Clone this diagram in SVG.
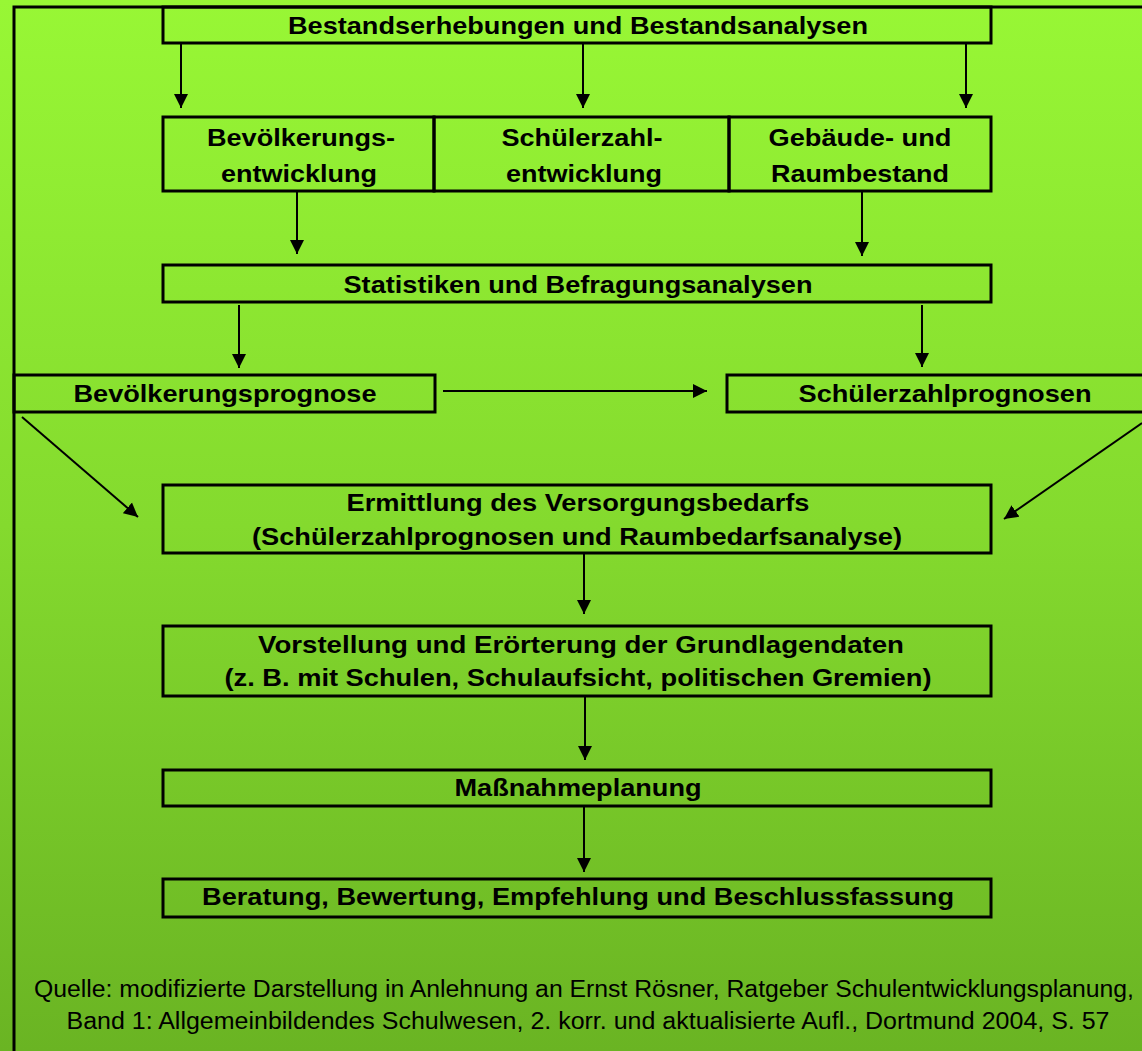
<svg xmlns="http://www.w3.org/2000/svg" width="1142" height="1051" viewBox="0 0 1142 1051">
<defs>
<linearGradient id="bg" x1="0" y1="0" x2="0" y2="1">
<stop offset="0" stop-color="#98F735"/>
<stop offset="0.5" stop-color="#84DA2E"/>
<stop offset="1" stop-color="#6AB423"/>
</linearGradient>
<marker id="ah" viewBox="0 0 10 10" refX="10" refY="5" markerWidth="14" markerHeight="15" markerUnits="userSpaceOnUse" orient="auto">
<path d="M0,0 L10,5 L0,10 z" fill="#000"/>
</marker>
<style>
.box{fill:none;stroke:#000;stroke-width:3}
.t{font-family:"Liberation Sans",Arial,sans-serif;font-weight:bold;font-size:24px;fill:#000;text-anchor:middle}
.q{font-family:"Liberation Sans",Arial,sans-serif;font-size:23px;fill:#000;text-anchor:middle}
.c{stroke:#000;stroke-width:2;fill:none;marker-end:url(#ah)}
</style>
</defs>
<rect x="0" y="0" width="1142" height="1051" fill="url(#bg)"/>
<rect id="frame" x="14" y="7" width="1140" height="1060" class="box"/>

<g id="n1"><rect x="163" y="7" width="828" height="36" class="box"/>
<text x="578" y="34" class="t" textLength="580" lengthAdjust="spacingAndGlyphs">Bestandserhebungen und Bestandsanalysen</text></g>

<g id="n2"><rect x="163" y="117" width="271" height="74" class="box"/>
<text x="301" y="146" class="t" textLength="188" lengthAdjust="spacingAndGlyphs">Bevölkerungs-</text>
<text x="299" y="182" class="t" textLength="156" lengthAdjust="spacingAndGlyphs">entwicklung</text></g>

<g id="n3"><rect x="434" y="117" width="295" height="74" class="box"/>
<text x="582" y="146" class="t" textLength="161" lengthAdjust="spacingAndGlyphs">Schülerzahl-</text>
<text x="584" y="182" class="t" textLength="156" lengthAdjust="spacingAndGlyphs">entwicklung</text></g>

<g id="n4"><rect x="729" y="117" width="262" height="74" class="box"/>
<text x="860" y="146" class="t" textLength="183" lengthAdjust="spacingAndGlyphs">Gebäude- und</text>
<text x="860" y="182" class="t" textLength="178" lengthAdjust="spacingAndGlyphs">Raumbestand</text></g>

<g id="n5"><rect x="163" y="265" width="828" height="37" class="box"/>
<text x="578" y="293" class="t" textLength="469" lengthAdjust="spacingAndGlyphs">Statistiken und Befragungsanalysen</text></g>

<g id="n6"><rect x="14" y="375" width="421" height="37" class="box"/>
<text x="225" y="402" class="t" textLength="303" lengthAdjust="spacingAndGlyphs">Bevölkerungsprognose</text></g>

<g id="n7"><rect x="727" y="375" width="430" height="37" class="box"/>
<text x="945" y="402" class="t" textLength="293" lengthAdjust="spacingAndGlyphs">Schülerzahlprognosen</text></g>

<g id="n8"><rect x="163" y="485" width="828" height="68" class="box"/>
<text x="578" y="511" class="t" textLength="463" lengthAdjust="spacingAndGlyphs">Ermittlung des Versorgungsbedarfs</text>
<text x="577" y="545" class="t" textLength="650" lengthAdjust="spacingAndGlyphs">(Schülerzahlprognosen und Raumbedarfsanalyse)</text></g>

<g id="n9"><rect x="163" y="626" width="828" height="70" class="box"/>
<text x="581" y="653" class="t" textLength="646" lengthAdjust="spacingAndGlyphs">Vorstellung und Erörterung der Grundlagendaten</text>
<text x="578" y="686" class="t" textLength="707" lengthAdjust="spacingAndGlyphs">(z. B. mit Schulen, Schulaufsicht, politischen Gremien)</text></g>

<g id="n10"><rect x="163" y="770" width="828" height="36" class="box"/>
<text x="578" y="796" class="t" textLength="247" lengthAdjust="spacingAndGlyphs">Maßnahmeplanung</text></g>

<g id="n11"><rect x="163" y="879" width="828" height="38" class="box"/>
<text x="578" y="905" class="t" textLength="752" lengthAdjust="spacingAndGlyphs">Beratung, Bewertung, Empfehlung und Beschlussfassung</text></g>

<g id="src">
<text x="584" y="997" class="q" textLength="1100" lengthAdjust="spacingAndGlyphs">Quelle: modifizierte Darstellung in Anlehnung an Ernst Rösner, Ratgeber Schulentwicklungsplanung,</text>
<text x="588" y="1029" class="q" textLength="1043" lengthAdjust="spacingAndGlyphs">Band 1: Allgemeinbildendes Schulwesen, 2. korr. und aktualisierte Aufl., Dortmund 2004, S. 57</text>
</g>

<g id="connectors">
<line x1="181" y1="44" x2="181" y2="108" class="c"/>
<line x1="583" y1="44" x2="583" y2="108" class="c"/>
<line x1="966" y1="44" x2="966" y2="108" class="c"/>
<line x1="297" y1="192" x2="297" y2="254" class="c"/>
<line x1="862" y1="192" x2="862" y2="256" class="c"/>
<line x1="239" y1="305" x2="239" y2="368" class="c"/>
<line x1="922" y1="305" x2="922" y2="367" class="c"/>
<line x1="443" y1="391" x2="707" y2="391" class="c"/>
<line x1="22" y1="417" x2="138" y2="517" class="c"/>
<line x1="1142" y1="423" x2="1004" y2="519" class="c"/>
<line x1="584" y1="553" x2="584" y2="614" class="c"/>
<line x1="585" y1="697" x2="585" y2="760" class="c"/>
<line x1="584" y1="807" x2="584" y2="872" class="c"/>
</g>
</svg>
